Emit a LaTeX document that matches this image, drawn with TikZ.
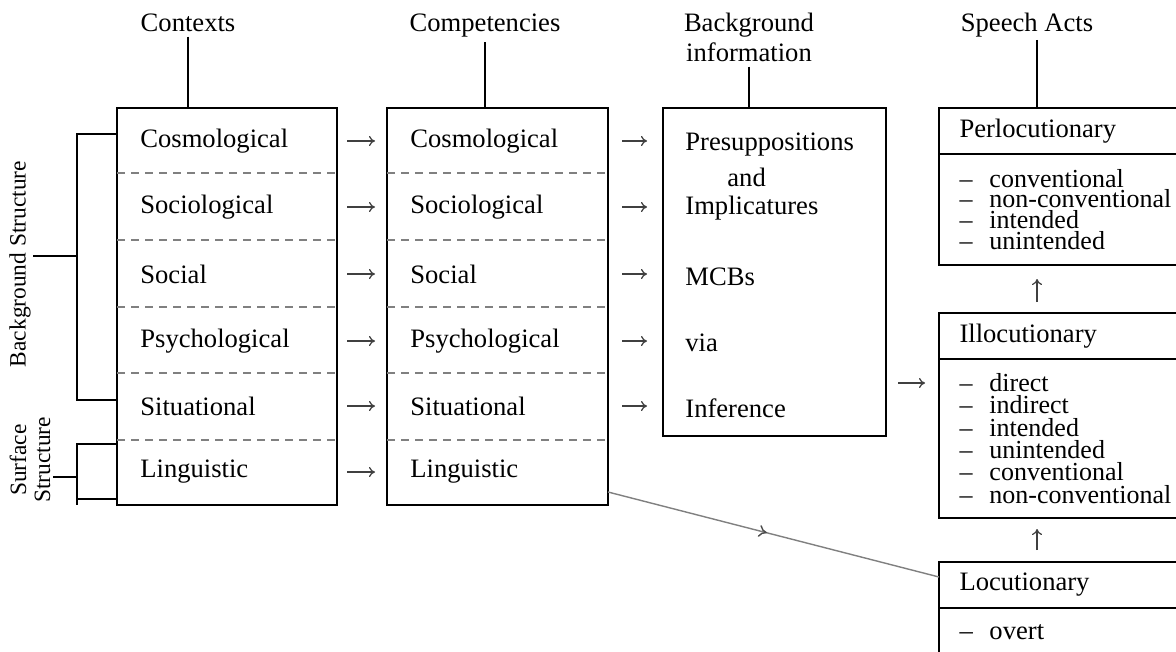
\documentclass[tikz,border=0pt]{standalone}
\usepackage{fontspec}
\setmainfont{Liberation Serif}
\usetikzlibrary{arrows.meta,positioning,decorations.markings}

\newcommand{\itm}[1]{\makebox[15pt][l]{\textendash}#1}

\begin{document}
\begin{tikzpicture}[
    x=0.5pt, y=-0.5pt,
    font=\fontsize{13.3}{15}\selectfont,
    colbox/.style={draw, line width=1pt, inner sep=0pt, outer sep=0pt, anchor=north west},
    rowtext/.style={anchor=west, inner sep=0pt},
    title/.style={align=center, inner sep=2pt, anchor=base},
    sep/.style={gray, line width=0.6pt, dash pattern=on 4pt off 3pt},
    arr/.style={-{To[length=3pt,width=5pt]}, line width=0.6pt, black!75},
    acthead/.style={draw, line width=1pt, outer sep=0pt, anchor=north west, minimum width=170.5pt, minimum height=23pt, text width=150pt, inner xsep=10.25pt, align=flush left},
    actbody/.style={draw, line width=1pt, outer sep=0pt, minimum width=170.5pt, text width=150pt, inner xsep=10.25pt, inner ysep=0pt, align=flush left},
    bracket/.style={line width=1pt},
    sidetext/.style={rotate=90, align=center, inner sep=1pt, font=\fontsize{11.7}{12}\selectfont}
]
    \useasboundingbox[fill=white] (0,0) rectangle (1176,652);

    % the three column boxes
    \node[colbox, minimum width=110pt, minimum height=198.5pt] (ctx) at (117,108) {};
    \node[colbox, minimum width=110.5pt, minimum height=198.5pt] (cmp) at (387,108) {};
    \node[colbox, minimum width=111.5pt, minimum height=164pt] (bg) at (663,108) {};

    % titles
    \node[title] (tctx) at (188,32) {Contexts};
    \node[title] (tcmp) at (485,32) {Competencies};
    \node[title] (tbg) at (749,62) {Background\\information};
    \node[title] (tsa) at (1027,32) {Speech Acts};
    \coordinate (sax) at (1037,40);

    \draw[line width=1pt] (tctx.south) -- (tctx.south |- ctx.north);
    \draw[line width=1pt] (tcmp.south) -- (tcmp.south |- cmp.north);
    \draw[line width=1pt] (tbg.south) -- (tbg.south |- bg.north);

    % rows of contexts and competencies
    \foreach \y in {173,240,307,373,440} {
        \draw[sep] (ctx.west |- 0,\y) -- (ctx.east |- 0,\y);
        \draw[sep] (cmp.west |- 0,\y) -- (cmp.east |- 0,\y);
    }
    \foreach \name/\y [count=\i] in {Cosmological/141, Sociological/207, Social/274, Psychological/341, Situational/406, Linguistic/472} {
        \node[rowtext] (c\i) at (140,\y) {\name};
        \node[rowtext] (m\i) at (410,\y) {\name};
        \draw[arr, shorten <=5pt, shorten >=6pt] (ctx.east |- c\i) -- (cmp.west |- c\i);
    }

    % background information
    \node[rowtext] (b1) at (685,145) {Presuppositions};
    \node[rowtext] (b2) at (727,177) {and};
    \node[rowtext] (b3) at (685,208) {Implicatures};
    \node[rowtext] (b4) at (685,277) {MCBs};
    \node[rowtext] (b5) at (685,343) {via};
    \node[rowtext] (b6) at (685,408) {Inference};
    \foreach \i in {1,...,5}
        \draw[arr, shorten <=7pt, shorten >=8pt] (cmp.east |- m\i) -- (bg.west |- m\i);

    % speech acts
    \node[acthead] (perlhead) at (939,108) {Perlocutionary};
    \node[actbody, below=0pt of perlhead, minimum height=55.5pt, font=\fontsize{13}{10.4}\selectfont] (perlbody)
        {\itm{conventional}\\\itm{non-conventional}\\\itm{intended}\\\itm{unintended}};
    \node[acthead] (illohead) at (939,313) {Illocutionary};
    \node[actbody, below=0pt of illohead, minimum height=79.5pt, font=\fontsize{13}{11.2}\selectfont] (illobody)
        {\itm{direct}\\\itm{indirect}\\\itm{intended}\\\itm{unintended}\\\itm{conventional}\\\itm{non-conventional}};
    \node[acthead] (lochead) at (939,562) {Locutionary};
    \node[actbody, below=0pt of lochead, minimum height=24pt] (locbody) {\itm{overt}};
    \coordinate (illoin) at (939,383);

    \draw[line width=1pt] (sax) -- (sax |- perlhead.north);
    \draw[arr, shorten <=5.5pt, shorten >=7pt] (sax |- illohead.north) -- (sax |- perlbody.south);
    \draw[arr, shorten <=6pt, shorten >=5.5pt] (sax |- lochead.north) -- (sax |- illobody.south);
    \draw[arr, shorten <=6pt, shorten >=7pt] (bg.east |- illoin) -- (illoin);
    \draw[gray, line width=0.7pt, postaction={decorate},
        decoration={markings, mark=at position 0.48 with {\arrow[black!70]{To[length=4pt,width=6pt]}}}]
        ([yshift=6.5pt]cmp.south east) -- ([yshift=4pt]lochead.west);

    % structure brackets
    \node[sidetext] (bgs) at (20,264) {Background Structure};
    \draw[bracket] (ctx.west |- 0,134) -- (77,134) -- (77,400) -- (ctx.west |- 0,400);
    \draw[bracket] (77,256) -- (bgs.south |- 0,256);
    \node[sidetext] (sfs) at (30,460) {Surface\\Structure};
    \draw[bracket] (ctx.west |- 0,444) -- (77,444) -- (77,505);
    \draw[bracket] (77,499) -- (ctx.west |- 0,499);
    \draw[bracket] (77,477) -- (sfs.south |- 0,477);
\end{tikzpicture}
\end{document}
